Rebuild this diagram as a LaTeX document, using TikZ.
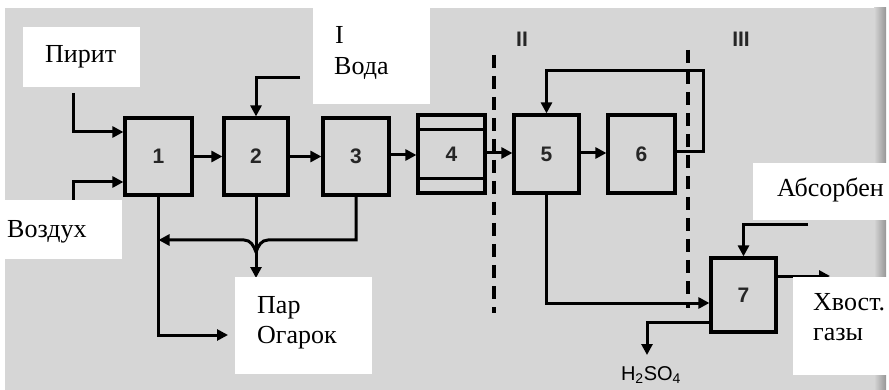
\documentclass[tikz,border=0pt]{standalone}
\usepackage{fontspec}
\setmainfont{Liberation Serif}
\newfontfamily\lsans{Liberation Sans}
\usetikzlibrary{arrows.meta,calc}
\definecolor{bggray}{RGB}{214,214,214}
\definecolor{edgegray}{RGB}{150,150,150}
\begin{document}
\begin{tikzpicture}[x=1pt,y=-1pt,
  blk/.style={draw=black, line width=3.2pt, inner sep=0pt, fill=none,
    font=\lsans\bfseries\fontsize{21}{21}\selectfont, text=black!85},
  ln/.style={line width=3pt},
  arr/.style={line width=3pt, -{Triangle[length=11pt,width=11pt]}},
  dsh/.style={line width=3.2pt, dash pattern=on 13pt off 8pt},
  lbl/.style={font=\fontsize{26}{30}\selectfont, inner sep=0pt},
  rom/.style={font=\lsans\bfseries\fontsize{21}{21}\selectfont, inner sep=0pt, text=black!85},
  sub/.style={font=\lsans\fontsize{20}{20}\selectfont, inner sep=0pt}]
\useasboundingbox (0,0) rectangle (889,390);
% background
\fill[bggray] (5,8) rectangle (886,390);
\shade[left color=bggray, right color=edgegray] (874,8) rectangle (886,390);

% blocks
\node[blk, minimum width=67pt, minimum height=77pt] (b1) at (158.5,156.5) {1};
\node[blk, minimum width=64pt, minimum height=77pt] (b2) at (256,156.5) {2};
\node[blk, minimum width=66pt, minimum height=77pt] (b3) at (356,156.5) {3};
\node[blk, minimum width=67pt, minimum height=78pt] (b4) at (451.5,154) {4};
\node[blk, minimum width=65pt, minimum height=78pt] (b5) at (546.5,154) {5};
\node[blk, minimum width=67pt, minimum height=78pt] (b6) at (641.5,154) {6};
\node[blk, minimum width=65pt, minimum height=74pt] (b7) at (743.5,295) {7};
\draw[ln] (b4.west |- 0,130) -- (b4.east |- 0,130);
\draw[ln] (b4.west |- 0,179) -- (b4.east |- 0,179);

% free ends
\coordinate (pirA) at (73,93);
\coordinate (airA) at (73,215);
\coordinate (watA) at (300,78);
\coordinate (rc) at (703,71);
\coordinate (ogE) at (228,335);
\coordinate (parE) at (256,278);
\coordinate (absA) at (808,225);
\coordinate (tgE) at (830,276);
\coordinate (hE) at (647,355);
\coordinate (d2t) at (494,55);
\coordinate (d2b) at (494,313);
\coordinate (d3t) at (688,50);
\coordinate (d3b) at (688,308);

% dashed boundaries
\draw[dsh] (d2t) -- (d2b);
\draw[dsh] (d3t) -- (d3b);
\node[rom] (rII) at (522,39) {II};
\node[rom] (rIII) at (741,39) {III};

% connectors
\draw[arr] (pirA) |- (b1.west |- 0,132);
\draw[arr] (airA) |- (b1.west |- 0,182);
\draw[arr] (b1.east) -- (b2.west);
\draw[arr] (watA) -| (b2.north);
\draw[arr] (b2.east) -- (b3.west);
\draw[arr] (b3.east |- 0,155) -- (b4.west |- 0,155);
\draw[arr] (b4.east |- 0,153) -- (b5.west |- 0,153);
\draw[arr] (b5.east |- 0,153) -- (b6.west |- 0,153);
\draw[arr] (b6.east |- 0,152) -| (rc) -| (b5.north);
\draw[arr] (b1.south) |- (ogE);
\draw[arr] (b2.south) -- (parE);
\draw[arr] (b3.south) |- (268,240) to[out=180,in=70] (256,252)
  to[out=110,in=0] (244,240) -- (b1.south |- 0,240);
\draw[arr] (b5.south) |- (b7.west |- 0,303);
\draw[arr] (absA) -| (b7.north);
\draw[arr] (b7.east |- 0,276) -- (tgE);
\draw[arr] (b7.west |- 0,322) -| (hE);
\node[sub, anchor=base] (h2) at (651,380) {H\textsubscript{2}SO\textsubscript{4}};

% white label boxes
\fill[white] (23,27) rectangle (140,87);
\node[lbl, anchor=base west] (tPirit) at (45,63) {Пирит};
\fill[white] (313,0) rectangle (430,104);
\node[lbl, anchor=base west] (tI) at (335,44) {I};
\node[lbl, anchor=base west] (tVoda) at (334,75) {Вода};
\fill[white] (5,200) rectangle (122,259);
\node[lbl, anchor=base west] (tVozd) at (7,237) {Воздух};
\fill[white] (235,277) rectangle (372,374);
\node[lbl, anchor=base west] (tPar) at (257,313) {Пар};
\node[lbl, anchor=base west] (tOgar) at (257,343) {Огарок};
\fill[white] (753,163) rectangle (889,220);
\node[lbl, anchor=base west] (tAbs) at (777,197) {Абсорбен};
\fill[white] (793,277) rectangle (889,375);
\node[lbl, anchor=base west] (tHv) at (813,310) {Хвост.};
\node[lbl, anchor=base west] (tGaz) at (813,340) {газы};
\end{tikzpicture}
\end{document}
